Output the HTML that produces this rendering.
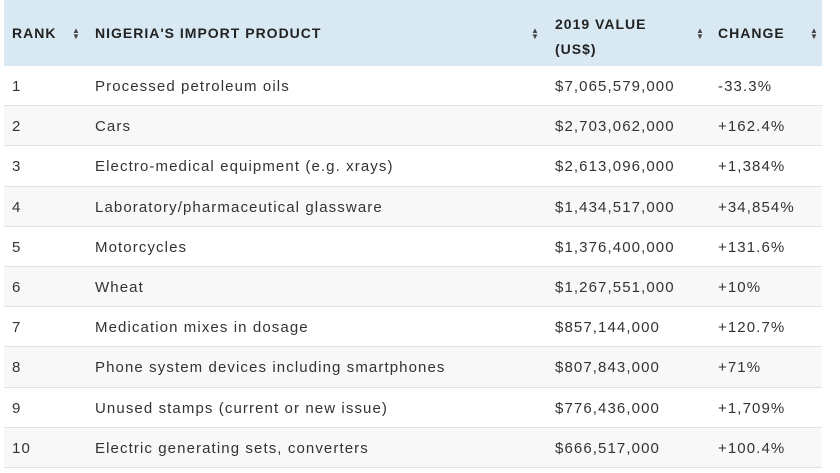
<!DOCTYPE html>
<html><head><meta charset="utf-8"><style>
body{margin:0;width:840px;height:473px;background:#fff;font-family:"Liberation Sans",sans-serif;overflow:hidden;position:relative}
.tbl{position:absolute;left:4px;top:0;width:818px}
.hdr{position:relative;height:66px;background:#d8e9f4;font-weight:bold;font-size:14px;color:#222;letter-spacing:1px}
.hdr span{position:absolute}
.row{position:relative;height:39.2px;border-bottom:1px solid #e2e2e2;font-size:15px;color:#333;letter-spacing:1.1px}
.row:nth-child(even){background:#f8f8f8}
.row span{position:absolute;top:12px}
.c1{left:8px}.c2{left:91px}.c3{left:551px}.c4{left:714px}
.s{font-size:8px;line-height:6px;color:#444;letter-spacing:0}
</style></head><body>
<div class="tbl">
<div class="hdr">
<span style="left:8px;top:25px">RANK</span>
<span class="s" style="left:68px;top:28px">▲<br>▼</span>
<span style="left:91px;top:25px">NIGERIA'S IMPORT PRODUCT</span>
<span class="s" style="left:527px;top:28px">▲<br>▼</span>
<span style="left:551px;top:12px;line-height:25px">2019 VALUE<br>(US$)</span>
<span class="s" style="left:692px;top:28px">▲<br>▼</span>
<span style="left:714px;top:25px">CHANGE</span>
<span class="s" style="left:806px;top:28px">▲<br>▼</span>
</div>
<div id="body"></div>
</div>
<script>
const ranks=[1,2,3,4,5,6,7,8,9,10];
const products=["Processed petroleum oils","Cars","Electro-medical equipment (e.g. xrays)","Laboratory/pharmaceutical glassware","Motorcycles","Wheat","Medication mixes in dosage","Phone system devices including smartphones","Unused stamps (current or new issue)","Electric generating sets, converters"];
const values=["$7,065,579,000","$2,703,062,000","$2,613,096,000","$1,434,517,000","$1,376,400,000","$1,267,551,000","$857,144,000","$807,843,000","$776,436,000","$666,517,000"];
const changes=["-33.3%","+162.4%","+1,384%","+34,854%","+131.6%","+10%","+120.7%","+71%","+1,709%","+100.4%"];
const body=document.getElementById('body');
ranks.forEach((r,i)=>{
  const row=document.createElement('div');row.className='row';
  
  
  [[r,'c1','rank-cell'],[products[i],'c2','product-cell'],[values[i],'c3','value-cell'],[changes[i],'c4','change-cell']].forEach(c=>{
    const s=document.createElement('span');s.className=c[1];s.textContent=c[0];
    
    
    row.appendChild(s);
  });
  body.appendChild(row);
});
</script>
</body></html>
